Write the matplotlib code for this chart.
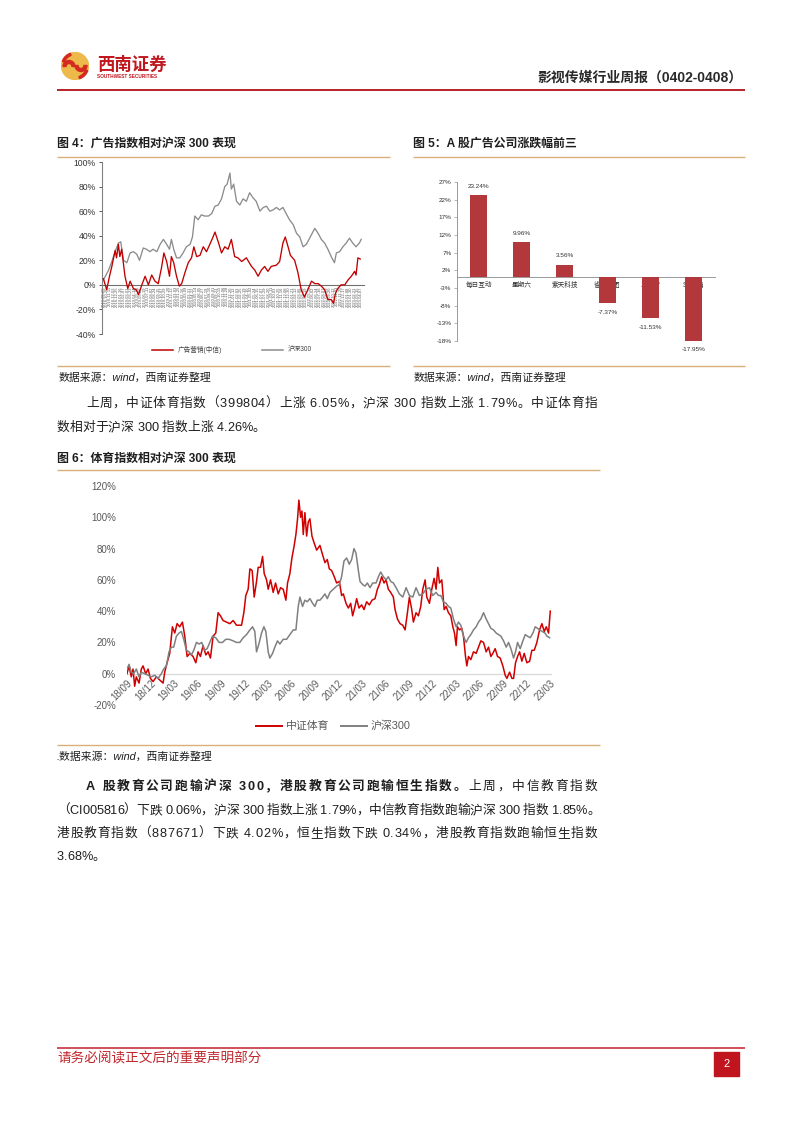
import matplotlib
matplotlib.use('Agg')
import matplotlib.pyplot as plt
from matplotlib.lines import Line2D
from matplotlib.patches import Rectangle, Circle, Wedge
import numpy as np
import pandas as pd

plt.rcParams['font.family'] = ['Liberation Sans', 'Noto Sans CJK SC', 'DejaVu Sans']
plt.rcParams['axes.unicode_minus'] = False

# ---------------- data ----------------
# Fig 4: months since 2018-09 (x), cumulative return % (y)
ad_t = [0.0, 0.7, 1.3, 1.8, 2.5, 2.8, 3.2, 3.5, 3.9, 4.6, 5.2, 5.7, 6.4, 7.0, 7.5, 8.2, 8.9, 9.6,
        10.3, 11.0, 11.7, 12.4, 12.9, 13.5, 14.1, 14.5, 15.0, 15.6, 16.2, 16.7, 17.4, 18.1, 18.8,
        19.3, 19.9, 20.6, 21.3, 22.0, 22.7, 23.4, 23.8, 24.5, 25.2, 25.9, 26.6, 27.3, 28.0, 28.7,
        29.5, 30.5, 31.6, 32.3, 33.0, 33.7, 34.4, 35.1, 35.8, 36.9, 37.6, 38.3, 38.8, 39.4, 39.9,
        40.8, 41.5, 42.2, 42.9, 43.6, 44.4, 45.1, 45.8, 46.5, 47.2, 47.9, 48.6, 49.1, 49.5, 50.0,
        50.7, 51.5, 52.2, 52.9, 53.6, 53.9, 54.3, 54.8]
ad_v = [5, -4, 7, 15, 28, 22, 33, 23, 29, 7, -3, 3, -3, -4, -8, 0, 7, 0,
        8, 3, 1, 14, 26, 19, 7, 23, 18, 7, -1, 1, 10, 18, 22,
        31, 23, 24, 31, 27, 33, 39, 43, 35, 26, 31, 29, 37, 23, 22,
        19, 22, 15, 12, 7, 12, 15, 11, 15, 16, 19, 34, 39, 31, 24,
        20, 10, -4, -10, -4, 3, 1, 1, -1, -4, -12, -12, -15, -7, -3,
        0, 0, 4, 7, 11, 8, 22, 21]
hs4_t = [0.0, 1.1, 1.8, 2.5, 3.2, 3.7, 4.3, 5.0, 5.7, 6.4, 7.1, 7.7, 8.5, 9.2, 9.9, 10.6, 11.4,
         12.1, 12.8, 13.5, 14.1, 14.5, 15.0, 15.6, 16.3, 17.0, 17.7, 18.5, 19.0, 19.5, 20.2, 20.9,
         21.6, 22.4, 23.1, 23.8, 24.5, 25.2, 25.9, 26.4, 27.0, 27.3, 27.8, 28.4, 29.1, 29.8, 30.5,
         31.2, 31.9, 32.6, 33.4, 34.1, 34.8, 35.5, 36.2, 36.9, 37.6, 38.3, 39.0, 39.7, 40.5, 41.2,
         41.9, 42.6, 43.3, 44.0, 45.1, 45.8, 46.5, 47.2, 47.9, 48.6, 49.3, 49.7, 50.4, 51.1, 51.8,
         52.5, 53.2, 53.9, 54.6, 55.0]
hs4_v = [4, 12, 19, 27, 34, 35, 20, 18, 26, 27, 25, 20, 30, 29, 27, 29, 27,
         33, 37, 33, 29, 37, 29, 22, 22, 26, 31, 33, 39, 56, 53, 57,
         56, 56, 58, 64, 65, 70, 80, 82, 91, 78, 82, 68, 65, 70, 68,
         75, 71, 68, 60, 63, 64, 60, 61, 63, 61, 63, 58, 53, 49, 42,
         39, 31, 33, 38, 46, 42, 37, 34, 29, 23, 18, 26, 27, 31, 34,
         38, 34, 31, 34, 37]
fig4_dates = list(pd.date_range('2018-09-28', '2023-04-07', periods=76).strftime('%Y-%m-%d'))
fig4_legend = ['广告营销(中信)', '沪深300']

# Fig 5
ad_names = ['每日互动', '星期六', '紫天科技', '省广集团', '三人行', 'ST中昌']
ad_changes = [23.24, 9.96, 3.56, -7.37, -11.53, -17.95]

# Fig 6: months since 2018-09 (x), cumulative return % (y)
sp_t = [0.0, 0.26, 0.55, 0.77, 0.98, 1.19, 1.54, 1.83, 2.05, 2.39, 2.69, 2.99, 3.33, 3.75, 4.18,
        4.61, 4.82, 5.12, 5.46, 5.80, 6.10, 6.40, 6.74, 7.08, 7.38, 7.68, 8.02, 8.44, 8.79, 9.08,
        9.38, 9.72, 10.07, 10.36, 10.66, 11.00, 11.34, 11.64, 11.94, 12.28, 12.71, 13.14, 13.56,
        13.99, 14.63, 14.93, 15.18, 15.48, 15.70, 15.99, 16.25, 16.55, 16.76, 17.06, 17.32, 17.53,
        17.83, 18.04, 18.34, 18.68, 18.98, 19.32, 19.62, 19.96, 20.30, 20.51, 20.81, 21.07, 21.33,
        21.58, 21.79, 21.96, 22.18, 22.35, 22.52, 22.73, 22.95, 23.16, 23.37, 23.63, 23.88, 24.23,
        24.65, 24.99, 25.29, 25.59, 25.85, 26.14, 26.48, 26.78, 27.13, 27.42, 27.64, 27.98, 28.28,
        28.58, 28.83, 29.13, 29.34, 29.64, 29.98, 30.28, 30.62, 30.96, 31.31, 31.69, 31.99, 32.24,
        32.54, 32.84, 33.10, 33.39, 33.69, 34.03, 34.25, 34.55, 34.89, 35.23, 35.53, 35.83, 36.08,
        36.38, 36.59, 36.93, 37.23, 37.53, 37.79, 38.09, 38.30, 38.64, 38.94, 39.24, 39.49, 39.71,
        39.92, 40.22, 40.52, 40.77, 41.07, 41.37, 41.63, 41.84, 42.05, 42.22, 42.48, 42.78, 42.99,
        43.25, 43.42, 43.63, 43.93, 44.27, 44.61, 44.91, 45.21, 45.55, 45.89, 46.19, 46.49, 46.74,
        47.04, 47.34, 47.68, 48.02, 48.32, 48.54, 48.88, 49.18, 49.39, 49.64, 49.90, 50.16, 50.45,
        50.75, 51.09, 51.44, 51.73, 52.03, 52.37, 52.71, 53.01, 53.31, 53.57, 53.86, 54.08]
sp_v = [0, 5, -2, 3, -8, -2, -6, 3, 5, 0, 3, -3, -5, -2, -4,
        -6, 1, 7, 13, 30, 26, 32, 30, 33, 24, 11, 13, 11, 7, 14,
        11, 18, 12, 14, 10, 24, 26, 39, 37, 34, 33, 32, 34,
        31, 31, 39, 50, 54, 67, 66, 49, 59, 68, 68, 75, 64,
        60, 54, 60, 52, 58, 51, 55, 54, 47, 58, 64, 74, 81,
        89, 99, 111, 100, 104, 89, 103, 88, 97, 99, 88, 84, 79,
        82, 76, 71, 73, 67, 66, 62, 58, 59, 50, 51, 45, 42,
        45, 37, 43, 48, 42, 44, 41, 46, 44, 47, 48, 54, 57,
        62, 58, 60, 54, 52, 49, 41, 35, 32, 31, 28, 39, 49,
        41, 33, 39, 37, 43, 54, 60, 49, 45, 54, 61, 54, 68,
        58, 60, 41, 43, 39, 37, 30, 26, 18, 30, 28, 29, 24,
        11, 5, 11, 9, 14, 13, 17, 21, 20, 14, 17, 11, 13,
        16, 11, 10, 5, -1, -3, 1, -3, -3, 7, 11, 14, 8,
        13, 7, 8, 15, 15, 20, 28, 32, 27, 30, 26, 40]
hs6_t = [0.0, 0.26, 0.55, 0.85, 1.19, 1.54, 1.83, 2.26, 2.69, 3.11, 3.54, 3.97, 4.39, 4.69, 5.03,
         5.37, 5.67, 5.97, 6.31, 6.65, 6.95, 7.25, 7.59, 7.93, 8.23, 8.53, 8.87, 9.21, 9.55, 9.89,
         10.24, 10.58, 10.92, 11.34, 11.77, 12.20, 12.62, 13.05, 13.56, 13.99, 14.42, 14.84, 15.27,
         15.70, 16.04, 16.33, 16.55, 16.85, 17.19, 17.49, 17.74, 18.04, 18.25, 18.60, 18.89, 19.23,
         19.53, 19.96, 20.39, 20.81, 21.24, 21.58, 21.88, 22.09, 22.43, 22.73, 23.03, 23.37, 23.71,
         24.01, 24.31, 24.65, 24.99, 25.29, 25.59, 25.93, 26.36, 26.78, 27.13, 27.42, 27.72, 28.06,
         28.40, 28.70, 29.00, 29.26, 29.56, 29.77, 30.11, 30.41, 30.71, 31.05, 31.39, 31.82, 32.12,
         32.41, 32.76, 33.10, 33.39, 33.69, 34.03, 34.38, 34.80, 35.23, 35.66, 36.08, 36.51, 36.93,
         37.36, 37.79, 38.21, 38.64, 39.07, 39.49, 39.79, 40.09, 40.43, 40.77, 41.07, 41.37, 41.71,
         42.05, 42.35, 42.65, 42.99, 43.33, 43.63, 43.93, 44.27, 44.61, 44.91, 45.21, 45.55, 45.89,
         46.19, 46.49, 46.83, 47.17, 47.47, 47.77, 48.11, 48.45, 48.75, 49.05, 49.39, 49.64, 49.90,
         50.24, 50.58, 50.88, 51.18, 51.52, 51.86, 52.16, 52.46, 52.71, 53.05, 53.40, 53.65, 54.0]
hs6_v = [3, 6, 1, 0, 3, -2, 1, 0, -1, -2, -1, -3, 0, 3, 5,
         14, 17, 17, 24, 26, 27, 22, 15, 14, 12, 15, 20, 19, 20, 15,
         16, 20, 24, 23, 20, 20, 22, 22, 21, 20, 20, 23, 25,
         28, 30, 27, 14, 19, 26, 30, 27, 14, 10, 13, 17, 21,
         19, 22, 22, 25, 28, 28, 43, 49, 43, 47, 46, 48, 45,
         43, 47, 47, 49, 51, 48, 52, 54, 56, 57, 62, 72, 74,
         70, 73, 80, 77, 66, 59, 57, 56, 58, 55, 58, 58, 62,
         65, 62, 60, 62, 59, 58, 55, 51, 49, 55, 50, 49, 55,
         50, 51, 54, 55, 50, 52, 50, 50, 46, 45, 43, 42, 35,
         30, 33, 31, 24, 20, 23, 25, 28, 30, 33, 35, 39, 35,
         32, 29, 28, 26, 25, 24, 21, 17, 20, 16, 10, 14, 20,
         16, 21, 25, 24, 23, 26, 30, 29, 28, 27, 26, 24, 23]
fig6_ticks = [0, 3, 6, 9, 12, 15, 18, 21, 24, 27, 30, 33, 36, 39, 42, 45, 48, 51, 54]
fig6_ticklabels = ['18/09', '18/12', '19/03', '19/06', '19/09', '19/12', '20/03', '20/06', '20/09',
                   '20/12', '21/03', '21/06', '21/09', '21/12', '22/03', '22/06', '22/09', '22/12', '23/03']
fig6_legend = ['中证体育', '沪深300']

# ---------------- helpers ----------------
W, H = 802, 1133
fig = plt.figure(figsize=(8.02, 11.33), dpi=100)
renderer = fig.canvas.get_renderer()

TAN = '#D9B07A'
TXT = '#1E1E1E'


def fx(x):
    return x / W


def fy(y):
    return 1 - y / H


def axrect(l, t, r, b):
    return [fx(l), fy(b), (r - l) / W, (b - t) / H]


def hline(x0, x1, y, color, lw):
    fig.add_artist(Line2D([fx(x0), fx(x1)], [fy(y), fy(y)], transform=fig.transFigure,
                          color=color, lw=lw, solid_capstyle='butt'))


def txt(x, y, s, **kw):
    kw.setdefault('va', 'center')
    return fig.text(fx(x), fy(y), s, **kw)


def justified(x0, x1, y, parts, size, justify=True):
    """parts: list of (string, weight). Place char by char, spreading to width x1-x0."""
    chars = []
    for s, w in parts:
        for ch in s:
            chars.append((ch, w))
    objs = []
    widths = []
    for ch, w in chars:
        t = txt(x0, y, ch, fontsize=size, fontweight=w, color=TXT, ha='left')
        bb = t.get_window_extent(renderer)
        w_ = bb.width if ch != ' ' else size * 100 / 72 * 0.28
        objs.append(t)
        widths.append(w_)
    total = sum(widths)
    extra = (x1 - x0 - total) / (len(chars) - 1) if (justify and len(chars) > 1) else 0
    x = x0
    for t, w_ in zip(objs, widths):
        t.set_x(fx(x))
        x += w_ + extra


# ---------------- header ----------------
lax = fig.add_axes(axrect(61, 52, 89, 80))
lax.set_xlim(0, 28)
lax.set_ylim(28, 0)
lax.axis('off')
lax.add_patch(Circle((14, 14), 13.5, color='#EDB94B'))
lax.add_patch(Wedge((8.0, 14.5), 6.0, 180, 360, width=3.0, color='#D42A22'))
lax.add_patch(Wedge((20.0, 13.5), 6.0, 0, 180, width=3.0, color='#D42A22'))
lax.add_patch(Wedge((14, 14), 13.5, 20, 70, width=2.2, color='#D42A22'))
lax.add_patch(Wedge((14, 14), 13.5, 200, 250, width=2.2, color='#D42A22'))

txt(97, 64, '西南证券', fontsize=12.5, fontweight='bold', color='#C0171F', ha='left')
txt(97, 77, 'SOUTHWEST SECURITIES', fontsize=3.4, fontweight='bold', color='#C0171F', ha='left')
txt(743, 78, '影视传媒行业周报（0402-0408）', fontsize=10, fontweight='bold', color='#2A2A2A', ha='right')
hline(57, 745, 90, '#B5212B', 1.4)

# ---------------- figure titles / frames ----------------
txt(57, 144, '图 4：广告指数相对沪深 300 表现', fontsize=8.6, fontweight='bold', color=TXT, ha='left')
txt(413, 144, '图 5：A 股广告公司涨跌幅前三', fontsize=8.6, fontweight='bold', color=TXT, ha='left')
hline(57, 390, 157, TAN, 1.0)
hline(413, 745, 157, TAN, 1.0)
hline(57, 390, 366, TAN, 1.0)
hline(413, 745, 366, TAN, 1.0)
txt(59, 378, '数据来源：wind，西南证券整理', fontsize=7.8, color=TXT, ha='left', style='italic')
txt(414, 378, '数据来源：wind，西南证券整理', fontsize=7.8, color=TXT, ha='left', style='italic')

# ---------------- Fig 4 ----------------
ax4 = fig.add_axes(axrect(102, 162, 364, 334))
ax4.plot(ad_t, ad_v, color='#C00000', lw=0.95, zorder=3)
ax4.plot(hs4_t, hs4_v, color='#8C8C8C', lw=0.95, zorder=2)
ax4.set_xlim(-0.3, 55.6)
ax4.set_ylim(-40, 100)
yt = list(range(-40, 101, 20))
ax4.set_yticks(yt)
ax4.set_yticklabels([f'{v}%' for v in yt])
for s in ['top', 'right']:
    ax4.spines[s].set_visible(False)
ax4.spines['left'].set_color('#808080')
ax4.spines['left'].set_linewidth(0.8)
ax4.spines['bottom'].set_position(('data', 0))
ax4.spines['bottom'].set_color('#707070')
ax4.spines['bottom'].set_linewidth(0.8)
ax4.tick_params(axis='y', labelsize=6.2, colors='#404040', length=2.5, width=0.6, pad=2,
                labelcolor='#333333')
ax4.set_xticks(np.linspace(0, 55, len(fig4_dates)))
ax4.set_xticklabels(fig4_dates, rotation=90, fontsize=2.9, color='#555555')
ax4.tick_params(axis='x', length=0, pad=1)
ax4.patch.set_alpha(0)

# legend fig 4
fig.add_artist(Line2D([fx(152), fx(173)], [fy(350), fy(350)], transform=fig.transFigure, color='#C00000', lw=1.1))
txt(178, 350, fig4_legend[0], fontsize=4.8, color='#444444', ha='left')
fig.add_artist(Line2D([fx(262), fx(283)], [fy(350), fy(350)], transform=fig.transFigure, color='#8C8C8C', lw=1.1))
txt(288, 350, fig4_legend[1], fontsize=4.8, color='#444444', ha='left')

# ---------------- Fig 5 ----------------
ax5 = fig.add_axes(axrect(457, 182, 715, 341))
x5 = np.arange(len(ad_names))
ax5.bar(x5, ad_changes, width=0.4, color='#B3383B', zorder=2)
ax5.set_xlim(-0.5, 5.5)
ax5.set_ylim(-18, 27)
yt5 = list(range(-18, 28, 5))
ax5.set_yticks(yt5)
ax5.set_yticklabels([f'{v}%' for v in yt5])
for s in ['top', 'right']:
    ax5.spines[s].set_visible(False)
ax5.spines['left'].set_color('#999999')
ax5.spines['left'].set_linewidth(0.7)
ax5.spines['bottom'].set_position(('data', 0))
ax5.spines['bottom'].set_color('#999999')
ax5.spines['bottom'].set_linewidth(0.7)
ax5.spines['bottom'].set_zorder(1)
ax5.tick_params(axis='y', labelsize=4.6, labelcolor='#333333', colors='#999999', length=2, width=0.5, pad=2)
ax5.set_xticks(x5)
ax5.set_xticklabels(ad_names, fontsize=4.8, color='#333333')
ax5.tick_params(axis='x', length=0, pad=3)
for xi, v in zip(x5, ad_changes):
    ax5.annotate(f'{v:.2f}%', (xi, v), xytext=(0, 6.5 if v > 0 else -6.5), textcoords='offset points',
                 ha='center', va='center', fontsize=4.6, color='#333333')
ax5.patch.set_alpha(0)

# ---------------- paragraph 1 ----------------
BODY = 9.2
justified(86, 597, 404, [('上周，中证体育指数（399804）上涨 6.05%，沪深 300 指数上涨 1.79%。中证体育指', 'normal')], BODY)
justified(57, 597, 428, [('数相对于沪深 300 指数上涨 4.26%。', 'normal')], BODY, justify=False)

# ---------------- Fig 6 ----------------
txt(57, 459, '图 6：体育指数相对沪深 300 表现', fontsize=8.6, fontweight='bold', color=TXT, ha='left')
hline(57, 600, 470, TAN, 1.0)
hline(57, 600, 745, TAN, 1.0)
txt(57, 757, '.数据来源：wind，西南证券整理', fontsize=7.8, color=TXT, ha='left', style='italic')

ax6 = fig.add_axes(axrect(127, 486, 552, 705))
ax6.axhline(0, color='#D9D9D9', lw=0.9, zorder=1)
ax6.plot(sp_t, sp_v, color='#D00000', lw=1.1, zorder=2)
ax6.plot(hs6_t, hs6_v, color='#808080', lw=1.1, zorder=3)
ax6.set_xlim(0, 54.3)
ax6.set_ylim(-20, 120)
yt6 = list(range(-20, 121, 20))
ax6.set_yticks(yt6)
ax6.set_yticklabels([f'{v}%' for v in yt6])
for s in ax6.spines.values():
    s.set_visible(False)
ax6.spines['bottom'].set_position(('data', 0))
ax6.tick_params(axis='y', labelsize=7, labelcolor='#595959', length=0, pad=8)
ax6.set_xticks(fig6_ticks)
ax6.set_xticklabels(fig6_ticklabels, fontsize=7, color='#595959', rotation=45, ha='right',
                    rotation_mode='anchor')
ax6.tick_params(axis='x', length=0, pad=3)
ax6.patch.set_alpha(0)

fig.add_artist(Line2D([fx(256), fx(282)], [fy(726), fy(726)], transform=fig.transFigure, color='#D00000', lw=1.4))
txt(286, 726, fig6_legend[0], fontsize=7.8, color='#595959', ha='left')
fig.add_artist(Line2D([fx(341), fx(367)], [fy(726), fy(726)], transform=fig.transFigure, color='#808080', lw=1.4))
txt(371, 726, fig6_legend[1], fontsize=7.8, color='#595959', ha='left')

# ---------------- paragraph 2 ----------------
justified(86, 597, 787, [('A 股教育公司跑输沪深 300，港股教育公司跑输恒生指数。', 'bold'), ('上周，中信教育指数', 'normal')], BODY)
justified(57, 600, 811, [('（CI005816）下跌 0.06%，沪深 300 指数上涨 1.79%，中信教育指数跑输沪深 300 指数 1.85%。', 'normal')], BODY)
justified(57, 597, 834, [('港股教育指数（887671）下跌 4.02%，恒生指数下跌 0.34%，港股教育指数跑输恒生指数', 'normal')], BODY)
justified(57, 597, 857, [('3.68%。', 'normal')], BODY, justify=False)

# ---------------- footer ----------------
hline(57, 745, 1048, '#C8323C', 1.2)
txt(57, 1058, '请务必阅读正文后的重要声明部分', fontsize=9.8, color='#C0272D', ha='left')
fig.add_artist(Rectangle((fx(714), fy(1076)), 25 / W, 24 / H, transform=fig.transFigure,
                         color='#C0141F'))
txt(726.5, 1064, '2', fontsize=8, color='white', ha='center')

fig.savefig('out.png', dpi=100)
